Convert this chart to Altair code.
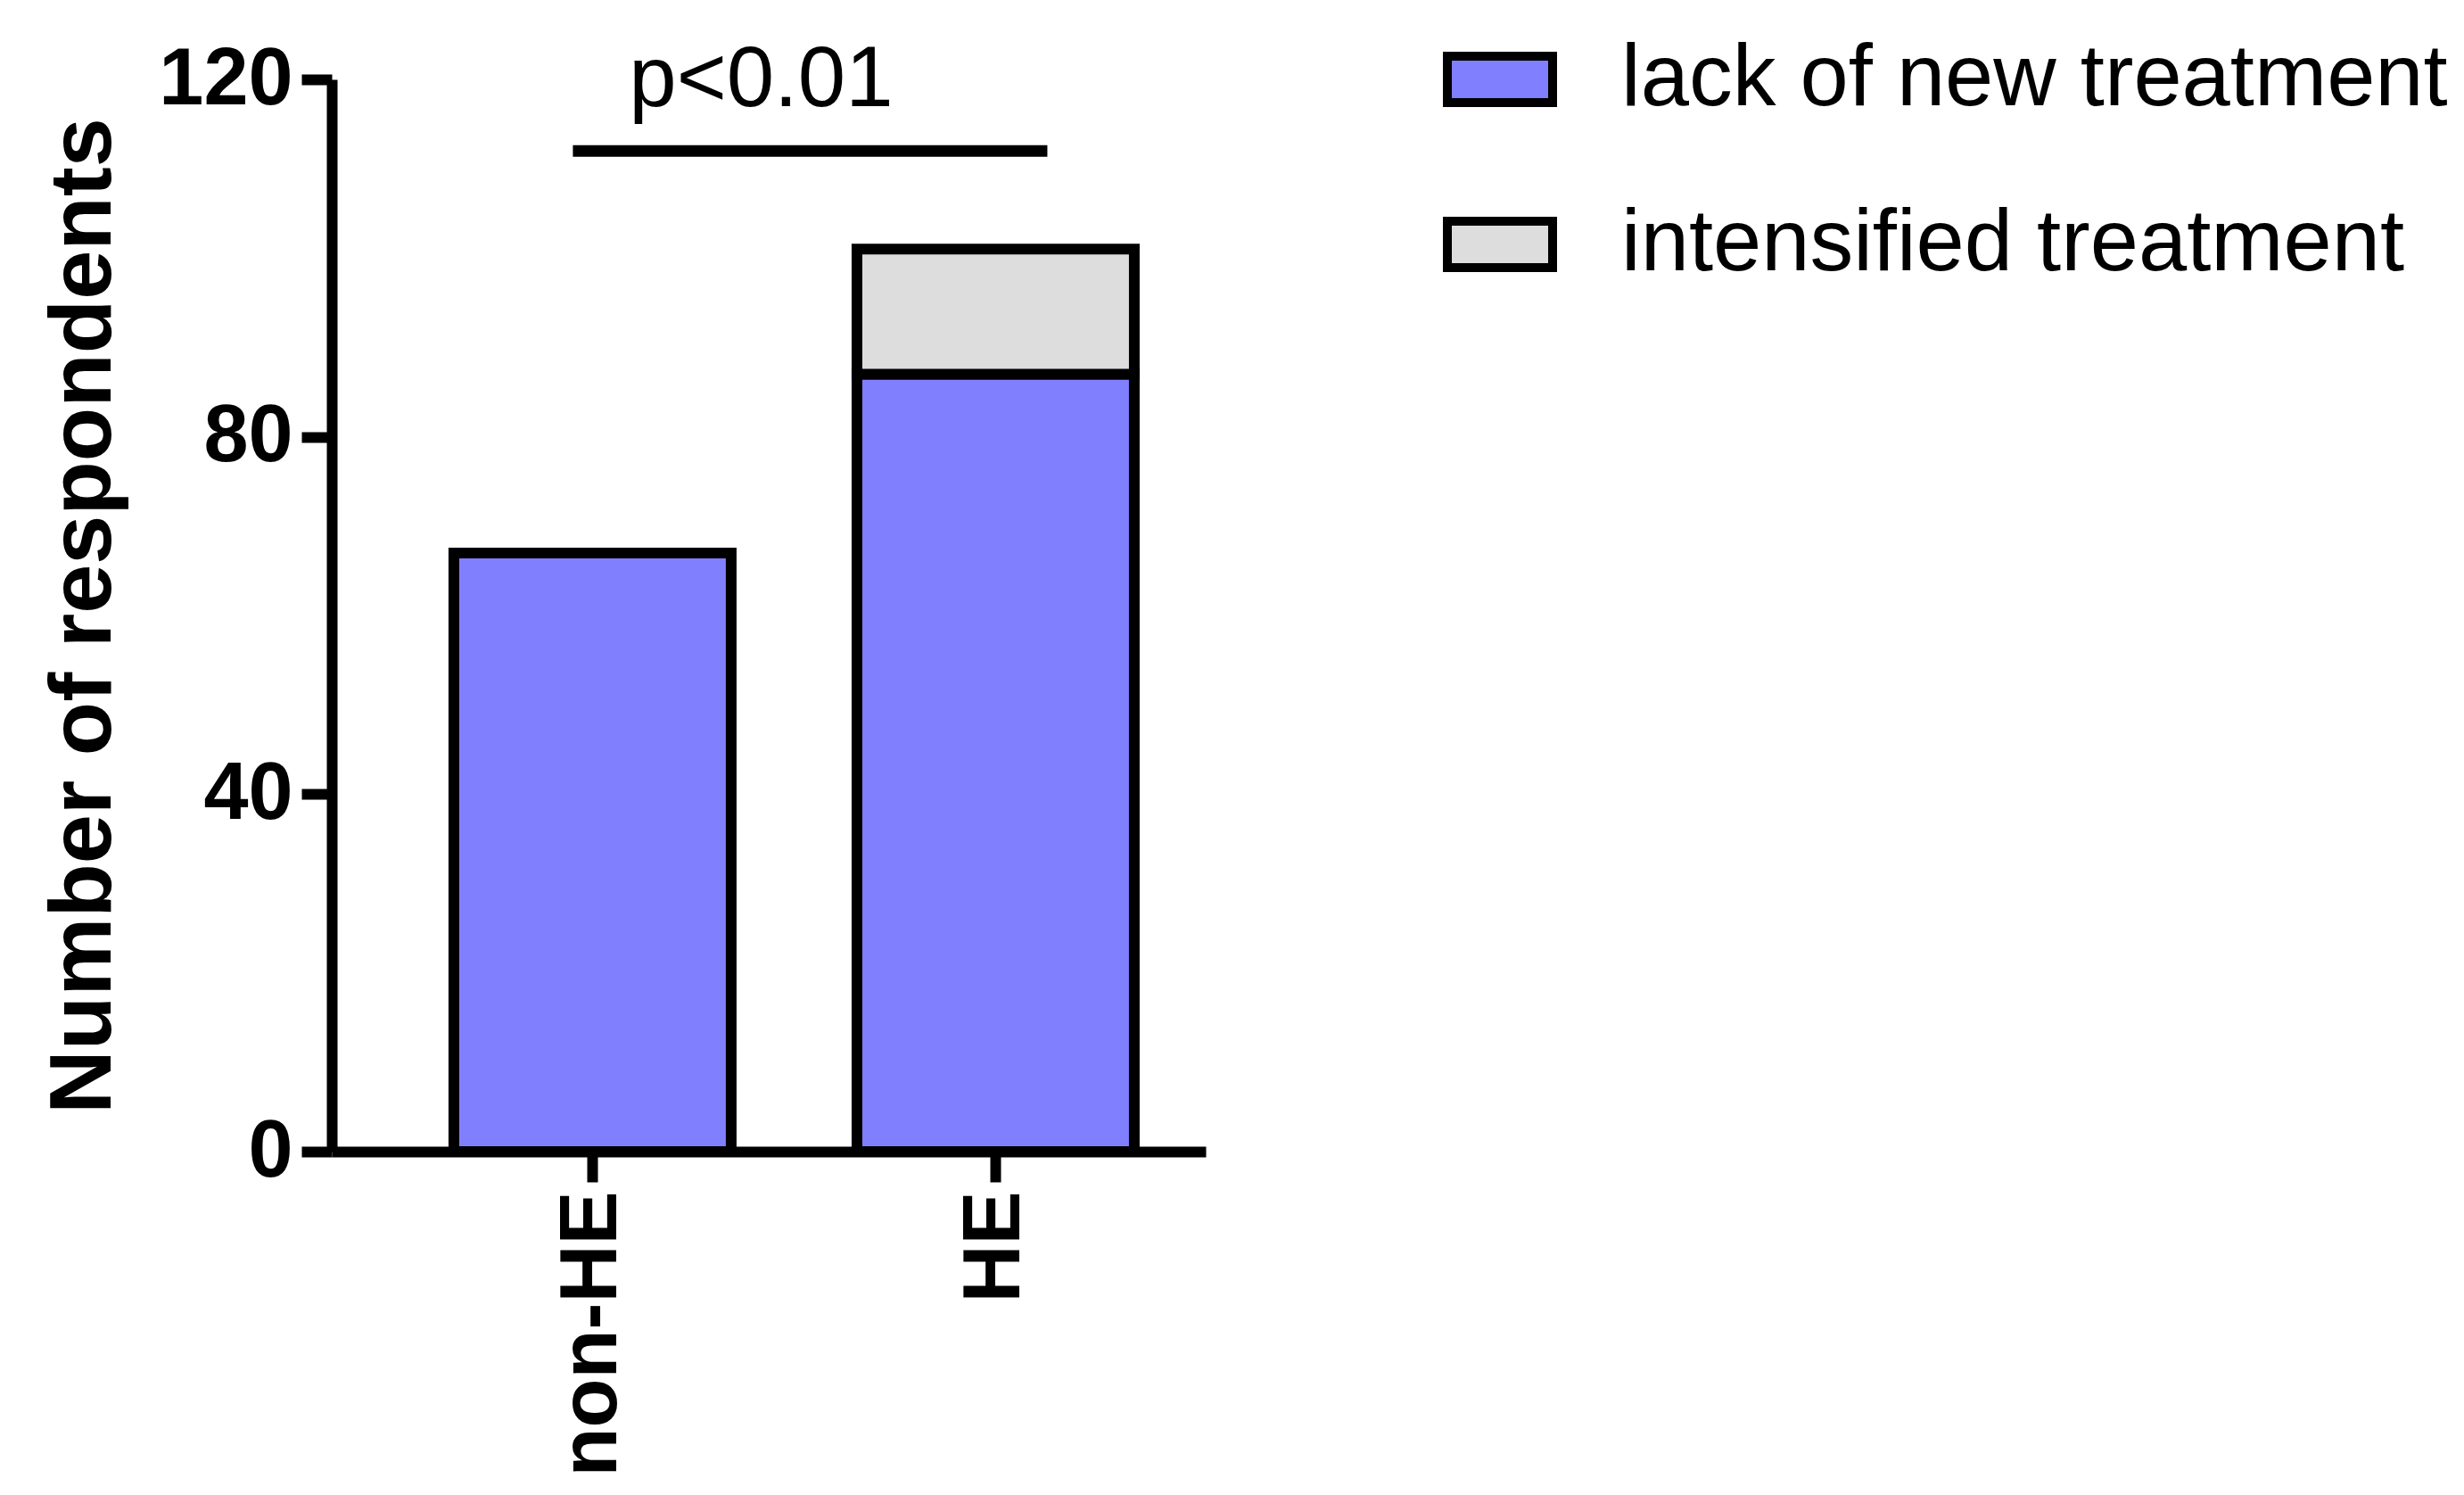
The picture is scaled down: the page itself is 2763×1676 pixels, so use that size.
import altair as alt
import pandas as pd

# --- data ---
groups = ["non-HE", "HE"]
series = ["lack of new treatment", "intensified treatment"]
lack_values = [67, 87]
intensified_values = [0, 14]

sig_from = ["non-HE"]
sig_to = ["HE"]
sig_level = [112]
p_text = ["p<0.01"]
p_level = [117]

rows = []
for g, a, b in zip(groups, lack_values, intensified_values):
    rows.append({"group": g, "series": series[0], "count": a, "ord": 0})
    if b > 0:
        rows.append({"group": g, "series": series[1], "count": b, "ord": 1})
df = pd.DataFrame(rows)

sig_df = pd.DataFrame({"x1": sig_from, "x2": sig_to, "y": sig_level})
p_df = pd.DataFrame({"x1": sig_from, "label": p_text, "y": p_level})

FONT = "Liberation Sans"

xscale = alt.Scale(domain=groups, paddingInner=0.312, paddingOuter=0.24, align=0.631)
yscale = alt.Scale(domain=[0, 120])

bars = alt.Chart(df).mark_bar(stroke="black", strokeWidth=12, opacity=1).encode(
    x=alt.X("group:N", sort=groups, scale=xscale,
            axis=alt.Axis(title=None, labelAngle=-90, labelPadding=10, labelLimit=0,
                          labelFontSize=90, labelFontWeight="bold")),
    y=alt.Y("count:Q", stack="zero", scale=yscale,
            axis=alt.Axis(values=[0, 40, 80, 120], title="Number of respondents",
                          labelPadding=10, labelFontSize=90, labelFontWeight="bold",
                          titlePadding=33, titleFontSize=99, titleFontWeight="bold")),
    color=alt.Color("series:N",
                    scale=alt.Scale(domain=series, range=["#8080FF", "#DDDDDD"]),
                    legend=alt.Legend(title=None, orient="none", legendX=1246, legendY=-64,
                                      padding=0, labelFont=FONT, labelFontSize=97.5,
                                      labelColor="black", labelFontWeight="normal", labelLimit=0,
                                      symbolType="M-1,-0.44H1V0.44H-1Z", symbolSize=13924,
                                      symbolStrokeColor="black", symbolStrokeWidth=10,
                                      symbolOpacity=1, labelOffset=72, rowPadding=72)),
    order=alt.Order("ord:Q"),
)

rule = alt.Chart(sig_df).mark_rule(color="black", strokeWidth=13, xOffset=-22, x2Offset=58).encode(
    x=alt.X("x1:N", sort=groups, scale=xscale),
    x2="x2:N",
    y=alt.Y("y:Q", scale=yscale),
)

ptext = alt.Chart(p_df).mark_text(font=FONT, fontSize=96, color="black", align="center",
                                  baseline="alphabetic", dx=189).encode(
    x=alt.X("x1:N", sort=groups, scale=xscale),
    y=alt.Y("y:Q", scale=yscale),
    text="label:N",
)

chart = alt.layer(bars, rule, ptext).properties(
    width=980, height=1202,
    background="white",
    autosize=alt.AutoSizeParams(type="none"),
    padding={"left": 364, "top": 81, "right": 1400, "bottom": 380},
).configure_view(stroke=None).configure_axis(
    grid=False, domainColor="black", domainWidth=12, tickColor="black", tickWidth=12,
    tickSize=34, labelFont=FONT, labelColor="black", titleFont=FONT, titleColor="black",
)

chart.save("out.html", embed_options={"renderer": "svg", "actions": False})
